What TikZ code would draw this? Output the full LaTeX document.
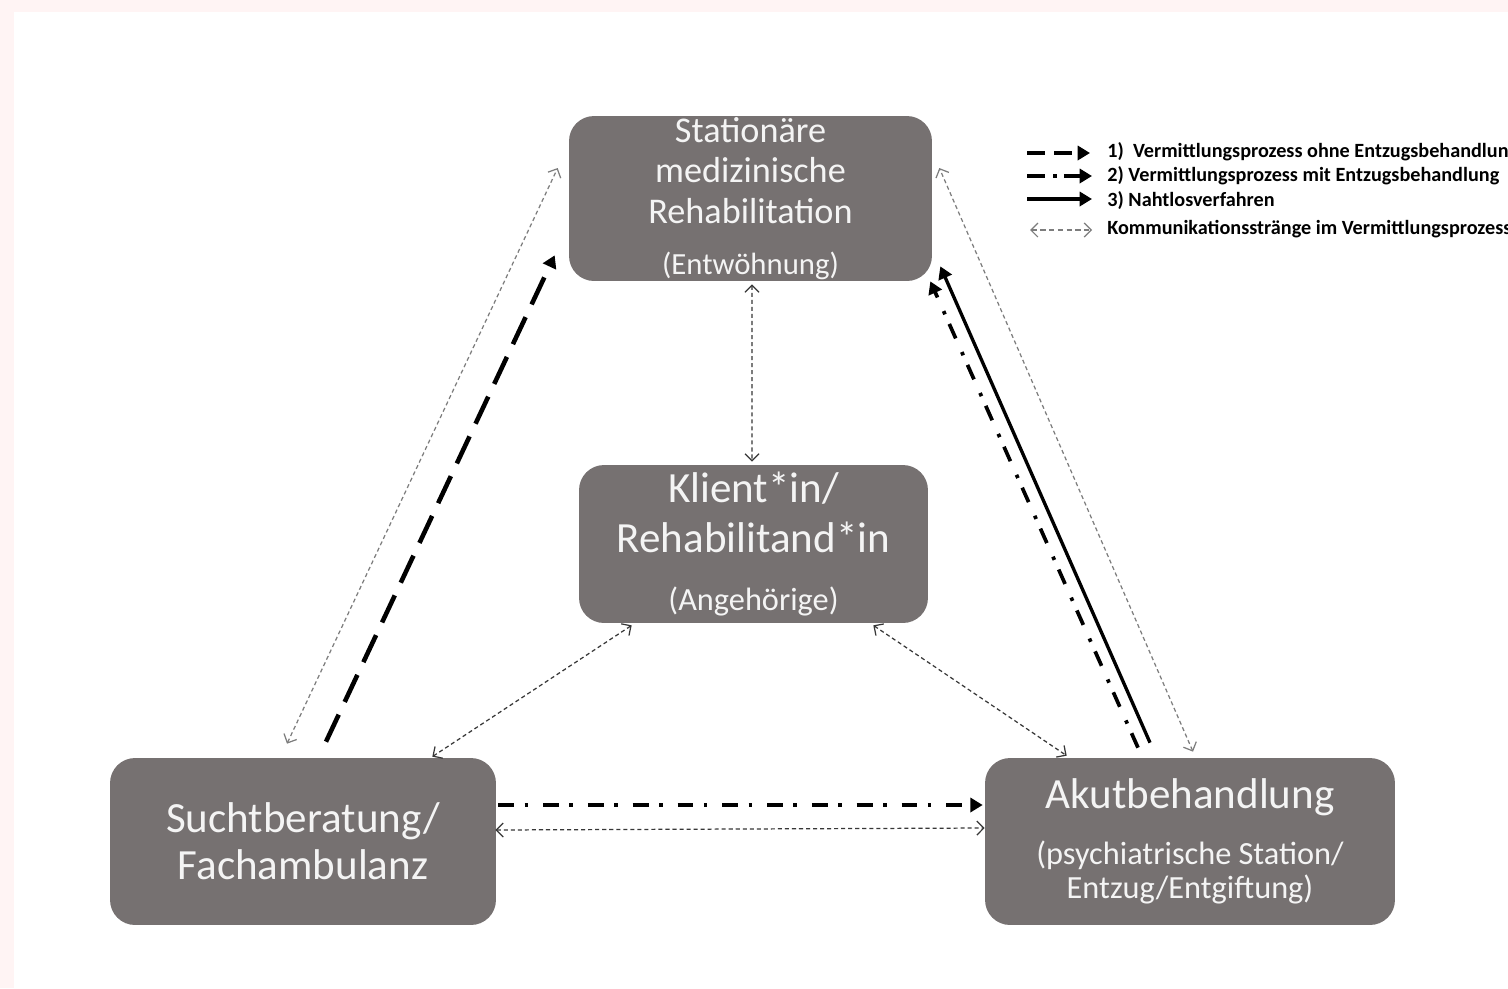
\documentclass[tikz,border=0pt]{standalone}
\usepackage{fontspec}
\setmainfont{Carlito}
\usetikzlibrary{arrows.meta}
\usetikzlibrary{calc}

\definecolor{boxgrey}{RGB}{118,113,113}
\definecolor{boxtext}{RGB}{244,244,244}
\definecolor{commdark}{RGB}{55,55,55}
\definecolor{commlight}{RGB}{125,125,125}
\definecolor{framepink}{RGB}{255,244,244}

\lineskiplimit=-100pt

\tikzset{
  stelle/.style={fill=boxgrey, rounded corners=0.5cm, text=boxtext, align=center, inner sep=0pt},
  ohneentzug/.style={line width=2.6pt, dash pattern=on 17pt off 8pt, -{Triangle[length=7pt,width=8pt]}},
  mitentzug/.style={line width=2.1pt, dash pattern=on 9pt off 6pt on 2pt off 8.5pt, -{Triangle[length=7pt,width=8pt]}},
  nahtlos/.style={line width=1.9pt, -{Triangle[length=7pt,width=8pt]}},
  kommunikation/.style={line width=0.7pt, commdark, dash pattern=on 2.3pt off 1.7pt, {Straight Barb[length=4pt,width=8pt]}-{Straight Barb[length=4pt,width=8pt]}},
  legende/.style={anchor=west, inner sep=0pt, font=\bfseries\fontsize{11.5}{13}\selectfont},
}

\begin{document}
\begin{tikzpicture}[x=0.02cm,y=-0.02cm]
                \fill[framepink] (0,0) rectangle (1508,988);
                \fill[white] (14,12) rectangle (1508,988);
                \useasboundingbox (0,0) rectangle (1508,988);

                \node[stelle, minimum width=7.26cm, minimum height=3.3cm, font=\fontsize{20.6}{23}\selectfont] (reha) at (750.5,198.5) {Stationäre\\medizinische\\Rehabilitation\\[6pt]{\fontsize{17.5}{21}\selectfont (Entwöhnung)}};
                \node[stelle, minimum width=6.98cm, minimum height=3.16cm, font=\fontsize{24.5}{28.4}\selectfont] (klient) at (753.5,544) {Klient*in/\\Rehabilitand*in\\[5pt]{\fontsize{18.4}{22}\selectfont (Angehörige)}};
                \node[stelle, minimum width=7.72cm, minimum height=3.34cm, font=\fontsize{24.5}{26.7}\selectfont] (sucht) at (303,841.5) {Suchtberatung/\\Fachambulanz};
                \node[stelle, minimum width=8.2cm, minimum height=3.34cm, font=\fontsize{24.5}{19.3}\selectfont] (akut) at (1190,841.5) {Akutbehandlung\\[12.5pt]{\fontsize{18.4}{19.3}\selectfont (psychiatrische Station/}\\{\fontsize{18.4}{19.3}\selectfont Entzug/Entgiftung)}};

                \draw[kommunikation, commlight] ($(sucht.north)+(-16,-14)$) to ($(reha.west)+(-11,-30.5)$);
                \draw[ohneentzug] ($(sucht.north)+(23,-16)$) to ($(reha.south west)+(-14,-26)$);
                \draw[kommunikation] ($(reha.south)+(1.5,3)$) to ($(klient.north)+(-1.5,-3)$);
                \draw[kommunikation] ($(klient.south west)+(53,2)$) to ($(sucht.north east)+(-64,-1)$);
                \draw[kommunikation] ($(klient.south east)+(-55,2)$) to ($(akut.north west)+(82,-2)$);
                \draw[mitentzug] ($(sucht.east)+(2,-36.5)$) to ($(akut.west)+(-2,-36.5)$);
                \draw[kommunikation] ($(sucht.east)+(-1,-11.5)$) to ($(akut.west)+(0,-13.5)$);
                \draw[nahtlos] ($(akut.north)+(-40,-15)$) to ($(reha.south east)+(8,-15)$);
                \draw[mitentzug] ($(akut.north)+(-52,-10)$) to ($(reha.south east)+(-2,0)$);
                \draw[kommunikation, commlight] ($(akut.north)+(3,-6)$) to ($(reha.east)+(7,-30.5)$);

                \coordinate (ohneA) at (1027,153);
                \coordinate (ohneB) at (1090,153);
                \coordinate (mitA) at (1027,176);
                \coordinate (mitB) at (1092,176);
                \coordinate (nahtA) at (1027,199);
                \coordinate (nahtB) at (1092,199);
                \coordinate (kommA) at (1030,230);
                \coordinate (kommB) at (1092,230);
                \draw[ohneentzug, dash pattern=on 10pt off 5.5pt] (ohneA) to (ohneB);
                \draw[mitentzug, dash pattern=on 10pt off 5pt on 2pt off 4pt] (mitA) to (mitB);
                \draw[nahtlos] (nahtA) to (nahtB);
                \draw[kommunikation, commlight, dash pattern=on 3pt off 2pt] (kommA) to (kommB);
                \node[legende] (ohnetext) at (1107,152) {1)\ \ Vermittlungsprozess ohne Entzugsbehandlung};
                \node[legende] (mittext) at (1107,176) {2) Vermittlungsprozess mit Entzugsbehandlung};
                \node[legende] (nahttext) at (1107,201) {3) Nahtlosverfahren};
                \node[legende] (kommtext) at (1107,229) {Kommunikationsstränge im Vermittlungsprozess};
            \end{tikzpicture}
\end{document}
